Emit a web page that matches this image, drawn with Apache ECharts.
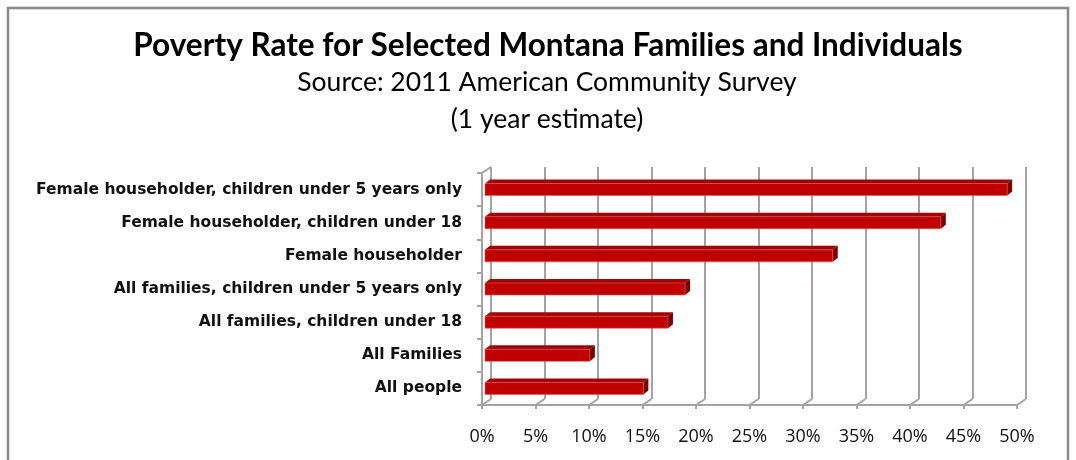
<!DOCTYPE html>
<html>
<head>
<meta charset="utf-8">
<script src="https://cdn.jsdelivr.net/npm/echarts@6/dist/echarts.min.js"></script>
<style>
  html, body { margin: 0; padding: 0; background: #ffffff; }
  #chart { width: 1076px; height: 460px; }
</style>
</head>
<body>
<div id="chart"></div>
<script>
// Poverty rates, Montana, 2011 ACS 1-year estimate (top to bottom)
const categories = [
  'Female householder, children under 5 years only',
  'Female householder, children under 18',
  'Female householder',
  'All families, children under 5 years only',
  'All families, children under 18',
  'All Families',
  'All people'
];
const povertyRate = [0.488, 0.426, 0.325, 0.187, 0.171, 0.098, 0.148];
const xTicks = [0, 0.05, 0.10, 0.15, 0.20, 0.25, 0.30, 0.35, 0.40, 0.45, 0.50];

const titleText = 'Poverty Rate for Selected Montana Families and Individuals';
const subtitleLines = ['Source: 2011 American Community Survey', '(1 year estimate)'];

// 3-D look: depth of the plot box and of each bar
const WALL_DX = 9, WALL_DY = -6;
const BAR_OX = 3, BAR_H = 12, BAR_DX = 5, BAR_DY = -4;
const GRID_COLOR = '#a3a3a3';

const chart = echarts.init(document.getElementById('chart'), null, { renderer: 'canvas' });

const pctLabel = v => Math.round(v * 100) + '%';

const option = {
  animation: false,
  backgroundColor: '#ffffff',
  graphic: [
    { type: 'rect', shape: { x: 8, y: 8, width: 1060, height: 470 },
      style: { fill: 'none', stroke: '#8a8a8a', lineWidth: 2.5 }, z: 0 },
    { type: 'text', x: 548, y: 46,
      style: { text: titleText, fontFamily: 'Lato', fontWeight: 'bold', fontSize: 31.5,
               fill: '#000', align: 'center', verticalAlign: 'middle' } },
    { type: 'text', x: 547, y: 82,
      style: { text: subtitleLines[0], fontFamily: 'Lato', fontSize: 26.5,
               fill: '#000', align: 'center', verticalAlign: 'middle' } },
    { type: 'text', x: 547, y: 119,
      style: { text: subtitleLines[1], fontFamily: 'Lato', fontSize: 26.5,
               fill: '#000', align: 'center', verticalAlign: 'middle' } }
  ],
  grid: [
    // front plane
    { left: 482, right: 59, top: 173, bottom: 55, containLabel: false },
    // back wall
    { left: 482 + WALL_DX, right: 59 - WALL_DX, top: 173 + WALL_DY, bottom: 55 - WALL_DY, containLabel: false }
  ],
  xAxis: [
    { type: 'value', gridIndex: 0, min: 0, max: 0.5, interval: 0.05,
      axisLine: { show: true, lineStyle: { color: GRID_COLOR, width: 2 } },
      axisTick: { show: true, inside: false, length: 4, lineStyle: { color: GRID_COLOR, width: 2 } },
      splitLine: { show: false },
      axisLabel: { formatter: pctLabel, margin: 23, color: '#111', fontFamily: 'Open Sans', fontSize: 18 } },
    { type: 'value', gridIndex: 1, min: 0, max: 0.5, interval: 0.05,
      axisLine: { show: false }, axisTick: { show: false }, axisLabel: { show: false },
      splitLine: { show: true, lineStyle: { color: GRID_COLOR, width: 2 } } }
  ],
  yAxis: [
    { type: 'category', gridIndex: 0, data: categories, inverse: true,
      axisLine: { show: true, lineStyle: { color: GRID_COLOR, width: 2 } },
      axisTick: { show: true, length: 5, lineStyle: { color: GRID_COLOR, width: 2 } },
      axisLabel: { margin: 20, padding: [4, 0, 0, 0], color: '#111', fontFamily: 'DejaVu Sans',
                   fontWeight: 'bold', fontSize: 15.5 } },
    { type: 'category', gridIndex: 1, data: categories, inverse: true, show: false }
  ],
  series: [
    // floor edges joining the front axis to the back wall, plus the top of the side wall
    {
      type: 'custom', xAxisIndex: 0, yAxisIndex: 0, z: 1, silent: true,
      data: xTicks.map(v => [v]),
      renderItem: function (params, api) {
        const cs = params.coordSys;
        const x = api.coord([api.value(0), 0])[0];
        const yb = cs.y + cs.height;
        const children = [{
          type: 'line',
          shape: { x1: x, y1: yb, x2: x + WALL_DX, y2: yb + WALL_DY },
          style: { stroke: GRID_COLOR, lineWidth: 2 }
        }];
        if (params.dataIndex === 0) {
          children.push({
            type: 'line',
            shape: { x1: cs.x, y1: cs.y, x2: cs.x + WALL_DX, y2: cs.y + WALL_DY },
            style: { stroke: GRID_COLOR, lineWidth: 2 }
          });
        }
        return { type: 'group', children: children };
      }
    },
    // 3-D bars: front face, top face and end face
    {
      type: 'custom', xAxisIndex: 0, yAxisIndex: 0, z: 5,
      data: povertyRate.map((v, i) => [v, i]),
      encode: { x: 0, y: 1 },
      renderItem: function (params, api) {
        const v = api.value(0), c = api.value(1);
        const p0 = api.coord([0, c]);
        const p1 = api.coord([v, c]);
        const x0 = p0[0] + BAR_OX, x1 = p1[0] + BAR_OX;
        const yt = p0[1] - BAR_H / 2, yb = yt + BAR_H;
        return {
          type: 'group',
          children: [
            { type: 'polygon',
              shape: { points: [[x0, yt], [x1, yt], [x1 + BAR_DX, yt + BAR_DY], [x0 + BAR_DX, yt + BAR_DY]] },
              style: { fill: '#a30000' } },
            { type: 'polygon',
              shape: { points: [[x1, yt], [x1 + BAR_DX, yt + BAR_DY], [x1 + BAR_DX, yb + BAR_DY], [x1, yb]] },
              style: { fill: '#7a0000' } },
            { type: 'rect', shape: { x: x0, y: yt, width: x1 - x0, height: BAR_H },
              style: { fill: '#c00000', stroke: '#d85a5a', lineWidth: 0.6 } }
          ]
        };
      }
    }
  ]
};

chart.setOption(option);
</script>
</body>
</html>
